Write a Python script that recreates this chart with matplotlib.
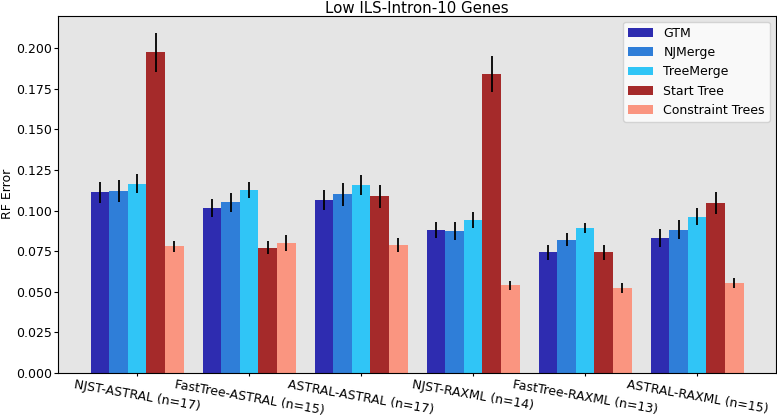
import numpy as np
import matplotlib
matplotlib.use('Agg')
import matplotlib.pyplot as plt

# Data
groups = ["NJST-ASTRAL (n=17)", "FastTree-ASTRAL (n=15)", "ASTRAL-ASTRAL (n=17)",
          "NJST-RAXML (n=14)", "FastTree-RAXML (n=13)", "ASTRAL-RAXML (n=15)"]
methods = ["GTM", "NJMerge", "TreeMerge", "Start Tree", "Constraint Trees"]

gtm = [0.1113, 0.1015, 0.1065, 0.0878, 0.0743, 0.0833]
njmerge = [0.1120, 0.1050, 0.1100, 0.0872, 0.0820, 0.0883]
treemerge = [0.1165, 0.1128, 0.1158, 0.0940, 0.0893, 0.0963]
start_tree = [0.1975, 0.0770, 0.1087, 0.1840, 0.0743, 0.1047]
constraint = [0.0780, 0.0798, 0.0787, 0.0539, 0.0525, 0.0553]

gtm_err = [0.0065, 0.0055, 0.0060, 0.0050, 0.0045, 0.0055]
njmerge_err = [0.0065, 0.0060, 0.0070, 0.0055, 0.0040, 0.0060]
treemerge_err = [0.0060, 0.0050, 0.0060, 0.0050, 0.0030, 0.0050]
start_err = [0.0120, 0.0040, 0.0070, 0.0110, 0.0045, 0.0070]
constraint_err = [0.0035, 0.0050, 0.0045, 0.0030, 0.0030, 0.0030]

values = [gtm, njmerge, treemerge, start_tree, constraint]
errors = [gtm_err, njmerge_err, treemerge_err, start_err, constraint_err]
colors = ["#2E2CB0", "#2F7ED8", "#30C5F6", "#A52A2A", "#FA9580"]

plt.rcParams['font.size'] = 9

fig = plt.figure(figsize=(7.77, 4.17), dpi=100)
ax = fig.add_axes([0.0747, 0.1055, 0.9243, 0.857])
ax.set_facecolor("#E5E5E5")

x = np.arange(len(groups))
width = 0.166
for i, (vals, errs) in enumerate(zip(values, errors)):
    ax.bar(x + (i - 2) * width, vals, width, yerr=errs, color=colors[i],
           label=methods[i], error_kw=dict(ecolor="black", elinewidth=1.3, capsize=0))

ax.set_xticks(x)
ax.set_xticklabels(groups, rotation=-10, ha="center")
ticks = np.arange(0, 0.201, 0.025)
ax.set_yticks(ticks)
ax.set_yticklabels(["%.3f" % v for v in ticks])
ax.tick_params(axis='x', length=2.5, pad=1.5)
ax.tick_params(axis='y', length=3, pad=1.5)
ax.set_ylabel("RF Error")
ax.yaxis.set_label_coords(-0.061, 0.5)
ax.set_title("Low ILS-Intron-10 Genes", fontsize=10.8, pad=2)
ax.legend(loc="upper right", framealpha=0.8)

plt.savefig("out.png", dpi=100)
plt.close()
